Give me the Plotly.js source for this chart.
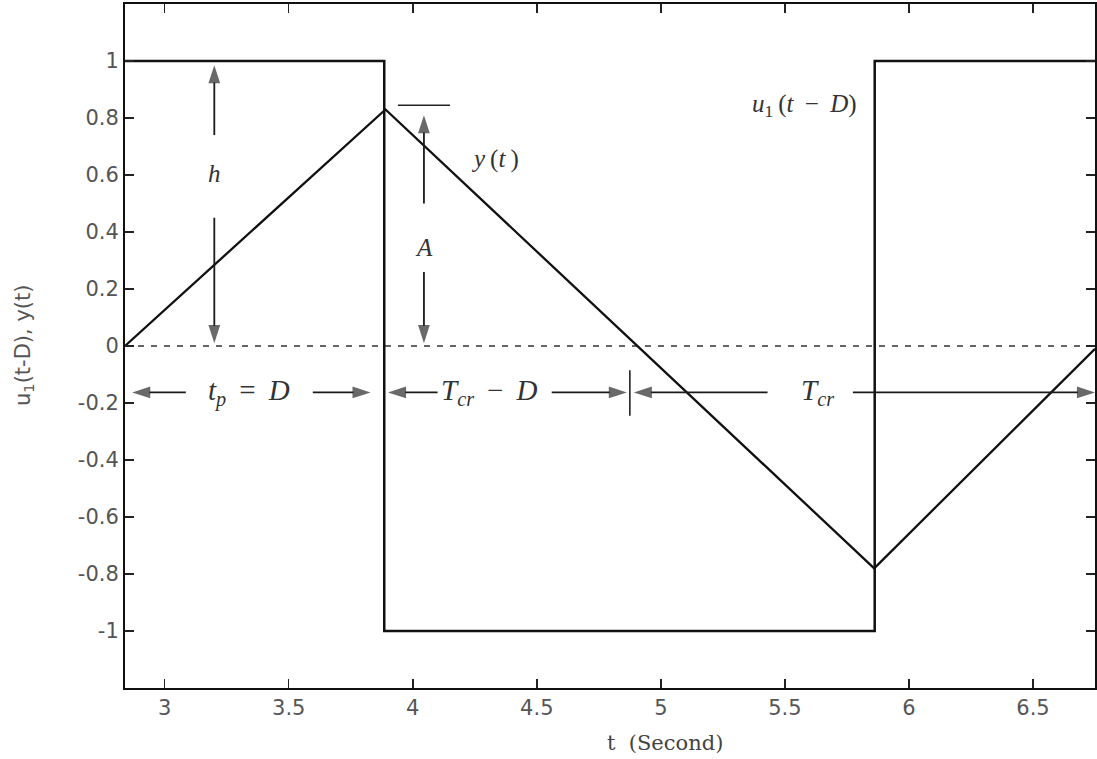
<!DOCTYPE html>
<html>
<head>
<meta charset="utf-8">
<script src="https://cdn.plot.ly/plotly-3.0.1.min.js"></script>
<style>
  html, body { margin: 0; padding: 0; background: #fff; }
  #chart { width: 1097px; height: 759px; }
</style>
</head>
<body>
<div id="chart"></div>
<script>
// Relay output u1(t - D): square wave switching between +1 and -1
const uTime = [2.84, 3.885, 3.885, 5.862, 5.862, 6.75];
const uValue = [1, 1, -1, -1, 1, 1];

// Process response y(t): triangular oscillation
const yTime = [2.84, 3.89, 5.86, 6.75];
const yValue = [0, 0.83, -0.78, -0.01];

// Zero reference line
const zeroTime = [2.84, 6.75];
const zeroValue = [0, 0];

// Amplitude marker level
const peakMarkTime = [3.94, 4.15];
const peakMarkValue = [0.845, 0.845];

// Period divider
const dividerTime = [4.875, 4.875];
const dividerValue = [-0.085, -0.245];

// Dimension arrows: tail point -> tip point
const ARROW_Y = -0.163;
const arrowTailX = [3.2, 3.2, 4.045, 4.045, 3.085, 3.597, 4.1, 4.56, 5.43, 5.774];
const arrowTailY = [0.74, 0.45, 0.5, 0.26, ARROW_Y, ARROW_Y, ARROW_Y, ARROW_Y, ARROW_Y, ARROW_Y];
const arrowTipX = [3.2, 3.2, 4.045, 4.045, 2.869, 3.83, 3.9, 4.863, 4.891, 6.75];
const arrowTipY = [0.985, 0.01, 0.81, 0.01, ARROW_Y, ARROW_Y, ARROW_Y, ARROW_Y, ARROW_Y, ARROW_Y];

const xTicks = [3, 3.5, 4, 4.5, 5, 5.5, 6, 6.5];
const xTickText = ['3', '3.5', '4', '4.5', '5', '5.5', '6', '6.5'];
const yTicks = [-1, -0.8, -0.6, -0.4, -0.2, 0, 0.2, 0.4, 0.6, 0.8, 1];
const yTickText = ['-1', '-0.8', '-0.6', '-0.4', '-0.2', '0', '0.2', '0.4', '0.6', '0.8', '1'];

const traces = [
  { x: zeroTime, y: zeroValue, mode: 'lines', line: { color: '#333', width: 1.5, dash: '6px,7px' }, hoverinfo: 'skip' },
  { x: uTime, y: uValue, mode: 'lines', line: { color: '#111', width: 2.5 }, hoverinfo: 'skip' },
  { x: yTime, y: yValue, mode: 'lines', line: { color: '#111', width: 2.3 }, hoverinfo: 'skip' },
  { x: peakMarkTime, y: peakMarkValue, mode: 'lines', line: { color: '#222', width: 1.6 }, hoverinfo: 'skip' },
  { x: dividerTime, y: dividerValue, mode: 'lines', line: { color: '#222', width: 1.6 }, hoverinfo: 'skip' }
];

// each arrow is a two-point line whose end carries an arrowhead marker
arrowTailX.forEach(function (_, i) {
  traces.push({
    x: [arrowTailX[i], arrowTipX[i]],
    y: [arrowTailY[i], arrowTipY[i]],
    mode: 'lines+markers',
    line: { color: '#1a1a1a', width: 1.8 },
    marker: { symbol: 'arrow', angleref: 'previous', size: [0, 19], color: '#2a2a2a',
              line: { width: 0 } },
    hoverinfo: 'skip'
  });
});

const SERIF = 'Liberation Serif, DejaVu Serif, serif';
const T = '\u2009'; // thin space

function label(x, y, html, size) {
  return { x: x, y: y, xref: 'x', yref: 'y', text: html, showarrow: false,
           font: { family: SERIF, size: size, color: '#333' } };
}

const annotations = [
  label(3.2, 0.607, '<i>h</i>', 25),
  label(4.045, 0.345, '<i>A</i>', 25),
  label(4.33, 0.655, '<i>y</i>' + T + '(<i>t</i>' + T + ')', 25),
  label(5.58, 0.845, '<i>u</i><sub>1</sub>' + T + '(<i>t</i>' + T + ' − ' + T + '<i>D</i>)', 25),
  label(3.34, ARROW_Y, '<i>t</i><sub><i>p</i></sub>' + T + ' = ' + T + '<i>D</i>', 29),
  label(4.31, ARROW_Y, '<i>T</i><sub><i>cr</i></sub>' + T + ' − ' + T + '<i>D</i>', 29),
  label(5.633, ARROW_Y, '<i>T</i><sub><i>cr</i></sub>', 29),
  // axis titles
  { x: 0.0, y: 0.5, xref: 'paper', yref: 'paper', xshift: -101, xanchor: 'center', yanchor: 'middle',
    text: 'u<sub>1</sub>(t-D), y(t)', textangle: -90, showarrow: false,
    font: { family: 'DejaVu Sans, sans-serif', size: 21, color: '#555' } },
  { x: 0.0, y: 0.0, xref: 'paper', yref: 'paper', xshift: 540, yshift: -55, xanchor: 'center', yanchor: 'middle',
    text: 't\u00a0\u00a0(Second)', showarrow: false,
    font: { family: 'DejaVu Serif, serif', size: 21, color: '#444' } }
];

const tickFont = { family: 'DejaVu Sans, sans-serif', size: 21, color: '#555' };

const layout = {
  width: 1097, height: 759,
  margin: { l: 125, r: 2, t: 4, b: 71 },
  paper_bgcolor: '#fff', plot_bgcolor: '#fff',
  showlegend: false,
  xaxis: {
    range: [2.84, 6.75],
    tickvals: xTicks, ticktext: xTickText,
    ticks: 'inside', ticklen: 9, tickwidth: 1.5, tickcolor: '#222',
    showline: true, linecolor: '#111', linewidth: 2, mirror: 'ticks',
    showgrid: false, zeroline: false,
    tickfont: tickFont,
    automargin: false
  },
  yaxis: {
    range: [-1.2, 1.2],
    tickvals: yTicks, ticktext: yTickText,
    ticks: 'inside', ticklen: 9, tickwidth: 1.5, tickcolor: '#222',
    showline: true, linecolor: '#111', linewidth: 2, mirror: 'ticks',
    showgrid: false, zeroline: false,
    tickfont: tickFont,
    automargin: false
  },
  annotations: annotations
};

Plotly.newPlot('chart', traces, layout, { displayModeBar: false, staticPlot: true });
</script>
</body>
</html>
